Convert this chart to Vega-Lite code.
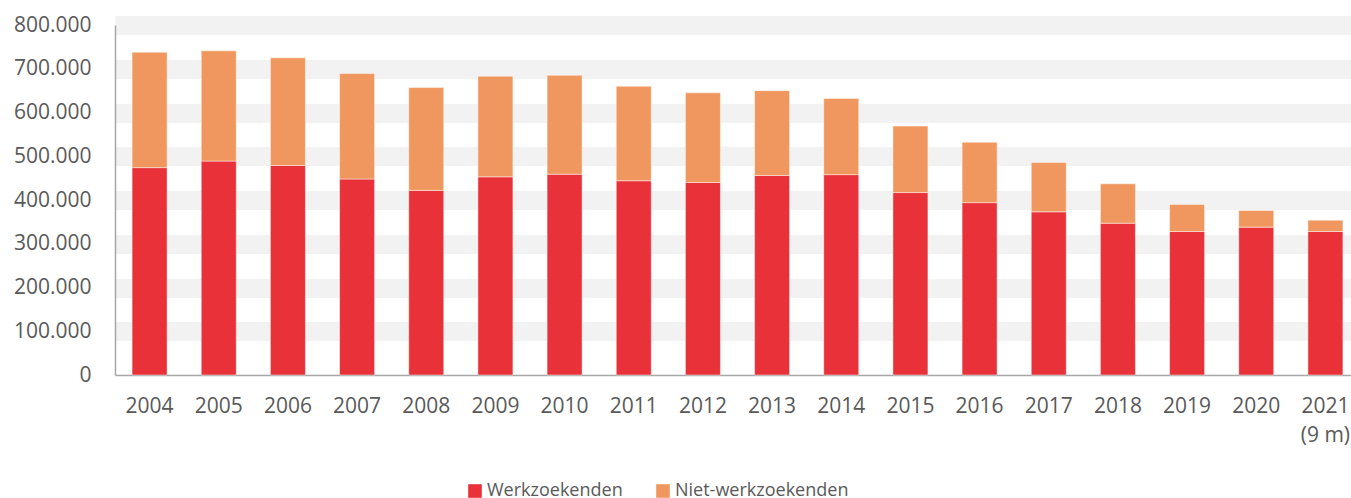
{
  "$schema": "https://vega.github.io/schema/vega-lite/v6.json",
  "width": 1236,
  "height": 350,
  "autosize": {"type": "none"},
  "padding": {"left": 115, "top": 25, "right": 0, "bottom": 123},
  "background": "white",
  "config": {
    "view": {"stroke": null},
    "font": "Open Sans"
  },
  "data": {
    "values": [
      {"jaar": "2004", "groep": "Werkzoekenden", "aantal": 474000},
      {"jaar": "2004", "groep": "Niet-werkzoekenden", "aantal": 264000},
      {"jaar": "2005", "groep": "Werkzoekenden", "aantal": 489000},
      {"jaar": "2005", "groep": "Niet-werkzoekenden", "aantal": 252000},
      {"jaar": "2006", "groep": "Werkzoekenden", "aantal": 479000},
      {"jaar": "2006", "groep": "Niet-werkzoekenden", "aantal": 246000},
      {"jaar": "2007", "groep": "Werkzoekenden", "aantal": 448000},
      {"jaar": "2007", "groep": "Niet-werkzoekenden", "aantal": 241000},
      {"jaar": "2008", "groep": "Werkzoekenden", "aantal": 422000},
      {"jaar": "2008", "groep": "Niet-werkzoekenden", "aantal": 235000},
      {"jaar": "2009", "groep": "Werkzoekenden", "aantal": 453000},
      {"jaar": "2009", "groep": "Niet-werkzoekenden", "aantal": 230000},
      {"jaar": "2010", "groep": "Werkzoekenden", "aantal": 459000},
      {"jaar": "2010", "groep": "Niet-werkzoekenden", "aantal": 226000},
      {"jaar": "2011", "groep": "Werkzoekenden", "aantal": 444000},
      {"jaar": "2011", "groep": "Niet-werkzoekenden", "aantal": 216000},
      {"jaar": "2012", "groep": "Werkzoekenden", "aantal": 440000},
      {"jaar": "2012", "groep": "Niet-werkzoekenden", "aantal": 205000},
      {"jaar": "2013", "groep": "Werkzoekenden", "aantal": 456000},
      {"jaar": "2013", "groep": "Niet-werkzoekenden", "aantal": 194000},
      {"jaar": "2014", "groep": "Werkzoekenden", "aantal": 458000},
      {"jaar": "2014", "groep": "Niet-werkzoekenden", "aantal": 174000},
      {"jaar": "2015", "groep": "Werkzoekenden", "aantal": 417000},
      {"jaar": "2015", "groep": "Niet-werkzoekenden", "aantal": 152000},
      {"jaar": "2016", "groep": "Werkzoekenden", "aantal": 394000},
      {"jaar": "2016", "groep": "Niet-werkzoekenden", "aantal": 138000},
      {"jaar": "2017", "groep": "Werkzoekenden", "aantal": 373000},
      {"jaar": "2017", "groep": "Niet-werkzoekenden", "aantal": 113000},
      {"jaar": "2018", "groep": "Werkzoekenden", "aantal": 347000},
      {"jaar": "2018", "groep": "Niet-werkzoekenden", "aantal": 90000},
      {"jaar": "2019", "groep": "Werkzoekenden", "aantal": 328000},
      {"jaar": "2019", "groep": "Niet-werkzoekenden", "aantal": 62000},
      {"jaar": "2020", "groep": "Werkzoekenden", "aantal": 338000},
      {"jaar": "2020", "groep": "Niet-werkzoekenden", "aantal": 38000},
      {"jaar": "2021 (9 m)", "groep": "Werkzoekenden", "aantal": 328000},
      {"jaar": "2021 (9 m)", "groep": "Niet-werkzoekenden", "aantal": 26000}
    ]
  },
  "mark": {"type": "bar", "stroke": "#ffffff", "strokeOpacity": 0.45, "strokeWidth": 1},
  "encoding": {
    "x": {
      "field": "jaar",
      "type": "nominal",
      "sort": null,
      "title": null,
      "scale": {"paddingInner": 0.494, "paddingOuter": 0.247, "range": [0, 1245]},
      "axis": {
        "labelAngle": 0,
        "ticks": false,
        "grid": false,
        "domainColor": "#a6a6a6",
        "domainWidth": 1.5,
        "labelFontSize": 21,
        "labelColor": "#595959",
        "labelPadding": 20,
        "labelBaseline": "top",
        "labelLineHeight": 29,
        "labelExpr": "datum.value === '2021 (9 m)' ? ['2021', '(9 m)'] : datum.value"
      }
    },
    "y": {
      "field": "aantal",
      "type": "quantitative",
      "stack": "zero",
      "title": null,
      "scale": {"domain": [0, 800000], "nice": false},
      "axis": {
        "values": [0, 100000, 200000, 300000, 400000, 500000, 600000, 700000, 800000],
        "ticks": false,
        "domainColor": "#a6a6a6",
        "domainWidth": 1.5,
        "gridColor": "#f2f2f2",
        "gridWidth": 19,
        "gridOpacity": {"condition": {"test": "datum.value === 0", "value": 0}, "value": 1},
        "labelFontSize": 21,
        "labelColor": "#595959",
        "labelPadding": 24,
        "labelExpr": "replace(format(datum.value, ','), ',', '.')"
      }
    },
    "color": {
      "field": "groep",
      "type": "nominal",
      "sort": ["Werkzoekenden", "Niet-werkzoekenden"],
      "scale": {"domain": ["Werkzoekenden", "Niet-werkzoekenden"], "range": ["#e83138", "#f0975f"]},
      "legend": {
        "title": null,
        "orient": "none",
        "direction": "horizontal",
        "legendX": 351,
        "legendY": 457,
        "symbolType": "square",
        "symbolSize": 185,
        "symbolStrokeWidth": 0,
        "labelFontSize": 18,
        "labelColor": "#595959",
        "labelOffset": 3,
        "labelLimit": 400,
        "columnPadding": 31,
        "padding": 0
      }
    }
  }
}
